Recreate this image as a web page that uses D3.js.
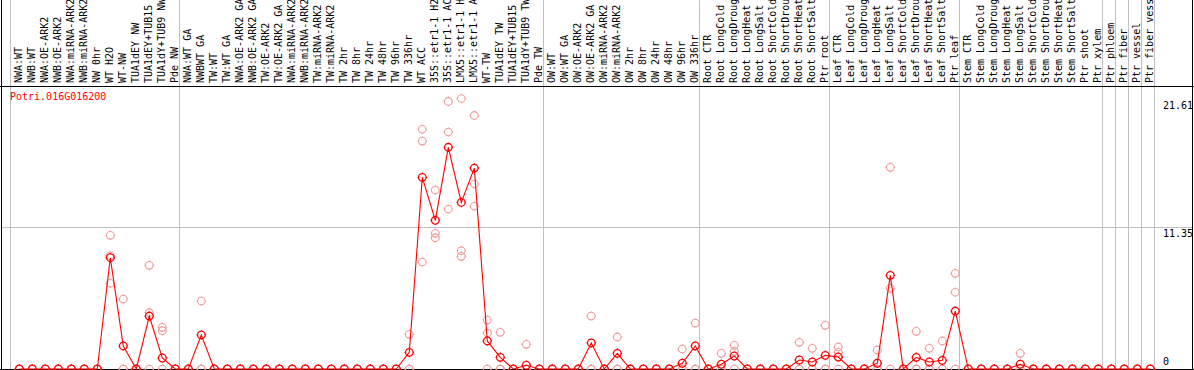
<!DOCTYPE html>
<html lang="en">
<head>
  <meta charset="UTF-8">
  <title>Potri.016G016200</title>
  <style>
    body { margin: 0; background: #fff; }
    svg { display: block; }
    text { font-family: "DejaVu Sans Mono", "Liberation Mono", monospace; font-size: 10px; }
  </style>
</head>
<body>
  <div id="chart"></div>

  <script src="https://d3js.org/d3.v7.min.js"></script>
  <script>
    // Probenamen (Spaltenbeschriftung)
    var sampleLabels = [
      'NWA:WT', 'NWB:WT', 'NWA:OE-ARK2', 'NWB:OE-ARK2', 'NWA:miRNA-ARK2', 'NWB:miRNA-ARK2',
      'NW 0hr', 'WT H2O', 'WT-NW', 'TUA1dEY NW', 'TUA1dEY+TUB15 NW', 'TUA1dY+TUB9 NW', 'Pde NW',
      'NWA:WT GA', 'NWBWT GA', 'TW:WT', 'TW:WT GA', 'NWA:OE-ARK2 GA', 'NWB:OE-ARK2 GA',
      'TW:OE-ARK2', 'TW:OE-ARK2 GA', 'NWA:miRNA-ARK2 GA', 'NWB:miRNA-ARK2 GA', 'TW:miRNA-ARK2',
      'TW:miRNA-ARK2', 'TW 2hr', 'TW 8hr', 'TW 24hr', 'TW 48hr', 'TW 96hr', 'TW 336hr', 'WT ACC',
      '35S::etr1-1 H2O', '35S::etr1-1 ACC', 'LMX5::etr1-1 H2O', 'LMX5::etr1-1 ACC', 'WT-TW',
      'TUA1dEY TW', 'TUA1dEY+TUB15 TW', 'TUA1dY+TUB9 TW', 'Pde TW',
      'OW:WT', 'OW:WT GA', 'OW:OE-ARK2', 'OW:OE-ARK2 GA', 'OW:miRNA-ARK2', 'OW:miRNA-ARK2',
      'OW 2hr', 'OW 8hr', 'OW 24hr', 'OW 48hr', 'OW 96hr', 'OW 336hr',
      'Root CTR', 'Root LongCold', 'Root LongDrought', 'Root LongHeat', 'Root LongSalt',
      'Root ShortCold', 'Root ShortDrought', 'Root ShortHeat', 'Root ShortSalt', 'Ptr root',
      'Leaf CTR', 'Leaf LongCold', 'Leaf LongDrought', 'Leaf LongHeat', 'Leaf LongSalt',
      'Leaf ShortCold', 'Leaf ShortDrought', 'Leaf ShortHeat', 'Leaf ShortSalt', 'Ptr leaf',
      'Stem CTR', 'Stem LongCold', 'Stem LongDrought', 'Stem LongHeat', 'Stem LongSalt',
      'Stem ShortCold', 'Stem ShortDrought', 'Stem ShortHeat', 'Stem ShortSalt', 'Ptr shoot',
      'Ptr xylem', 'Ptr phloem', 'Ptr fiber', 'Ptr vessel', 'Ptr fiber vessel'
    ];

    // Gruppengrenzen (Index der ersten Spalte jeder Gruppe)
    var groupBreaks = [0, 13, 41, 53, 63, 73, 84, 85, 86, 87, 88];

    // Mittelwerte
    var meanValues = [
      0, 0, 0, 0, 0, 0, 0, 8.89, 1.84, 0,
      4.23, 0.88, 0, 0, 2.72, 0, 0, 0, 0, 0,
      0, 0, 0, 0, 0, 0, 0, 0, 0, 0,
      1.33, 15.31, 11.88, 17.71, 13.31, 16.05, 2.24, 0.93, 0, 0.30,
      0, 0, 0, 0, 2.08, 0, 1.25, 0, 0, 0,
      0, 0.46, 1.84, 0, 0.38, 1.04, 0, 0, 0, 0,
      0.72, 0.56, 1.09, 0.96, 0, 0, 0.46, 7.48, 0, 0.93,
      0.56, 0.69, 4.63, 0, 0, 0, 0, 0.38, 0, 0,
      0, 0, 0, 0, 0, 0, 0, 0
    ];

    // Einzelwerte (Replikate)
    var repA = [
      0, 0, 0, 0, 0, 0, 0, 10.68, 5.59, 0,
      8.28, 3.33, 0, 0, 5.43, 0, 0, 0, 0, 0,
      0, 0, 0, 0, 0, 0, 0, 0, 0, 0,
      2.77, 19.15, 14.30, 21.38, 21.61, 20.26, 3.91, 2.93, 0, 1.97,
      0, 0, 0, 0, 4.23, 0, 2.56, 0, 0, 0,
      0, 1.60, 3.67, 0, 1.25, 1.89, 0, 0, 0, 0,
      2.13, 1.65, 3.49, 1.76, 0, 0, 1.52, 16.11, 0, 3.01,
      1.65, 2.24, 7.64, 0, 0, 0, 0, 1.25, 0, 0,
      0, 0, 0, 0, 0, 0, 0, 0
    ];
    var repB = [
      0, 0, 0, 0, 0, 0, 0, 9.05, 0, 0,
      4.50, 3.06, 0, 0, 0, 0, 0, 0, 0, 0,
      0, 0, 0, 0, 0, 0, 0, 0, 0, 0,
      0, 18.21, 10.84, 18.93, 9.45, 14.78, 2.88, 0, 0, 0,
      0, 0, 0, 0, 0, 0, 0, 0, 0, 0,
      0, 0, 0, 0, 0, 1.41, 0, 0, 0, 0,
      0, 0, 0, 1.33, 0, 0, 0, 6.45, 0, 0,
      0, 0, 6.13, 0, 0, 0, 0, 0, 0, 0,
      0, 0, 0, 0, 0, 0, 0, 0
    ];
    var repC = [
      0, 0, 0, 0, 0, 0, 0, 6.85, 0, 0,
      0, 0, 0, 0, 0, 0, 0, 0, 0, 0,
      0, 0, 0, 0, 0, 0, 0, 0, 0, 0,
      0, 8.55, 10.49, 12.78, 9.00, 13.00, 0, 0, 0, 0,
      0, 0, 0, 0, 0, 0, 0, 0, 0, 0,
      0, 0, 0, 0, 0, 0, 0, 0, 0, 0,
      0, 0, 0, 0, 0, 0, 0, 0, 0, 0,
      0, 0, 0, 0, 0, 0, 0, 0, 0, 0,
      0, 0, 0, 0, 0, 0, 0, 0
    ];

    var yTicks = [0, 11.35, 21.61];
    var geneName = 'Potri.016G016200';

    var width = 1194;
    var height = 370;
    var headerBottom = 86;
    var colStep = 13;
    var left = 11;

    var svg = d3.select('#chart')
      .append('svg')
      .attr('width', width)
      .attr('height', height);

    var xScale = d3.scaleLinear()
      .domain([0, sampleLabels.length])
      .range([left, left + colStep * sampleLabels.length]);

    var yScale = d3.scaleLinear()
      .domain([0, d3.max(yTicks)])
      .range([369, 98.5]);

    function px(i) {
      return xScale(i) + 8.3;
    }

    // Gitterlinien
    svg.append('g')
      .selectAll('line')
      .data(groupBreaks)
      .enter()
      .append('line')
      .attr('x1', function(d) { return Math.round(xScale(d)) - 0.5; })
      .attr('x2', function(d) { return Math.round(xScale(d)) - 0.5; })
      .attr('y1', 0)
      .attr('y2', 369)
      .attr('stroke', '#c0c0c0')
      .attr('stroke-width', 1);

    svg.append('g')
      .selectAll('line')
      .data(yTicks.filter(function(d) { return d > 0 && d < d3.max(yTicks); }))
      .enter()
      .append('line')
      .attr('x1', 1)
      .attr('x2', 1193)
      .attr('y1', function(d) { return Math.round(yScale(d)) + 0.5; })
      .attr('y2', function(d) { return Math.round(yScale(d)) + 0.5; })
      .attr('stroke', '#c0c0c0')
      .attr('stroke-width', 1);

    // Rahmen
    var frame = svg.append('g').attr('stroke', '#000').attr('stroke-width', 1);
    frame.append('line').attr('x1', 1.5).attr('x2', 1.5).attr('y1', 0).attr('y2', 370);
    frame.append('line').attr('x1', 1192.5).attr('x2', 1192.5).attr('y1', 0).attr('y2', 370);
    frame.append('line').attr('x1', 0).attr('x2', width).attr('y1', headerBottom + 0.5).attr('y2', headerBottom + 0.5);
    frame.append('line').attr('x1', 0).attr('x2', width).attr('y1', 369.5).attr('y2', 369.5);

    // Spaltenbeschriftung (senkrecht), oben abgeschnitten wie im Original
    svg.append('g')
      .selectAll('text')
      .data(sampleLabels)
      .enter()
      .append('text')
      .attr('transform', function(d, i) {
        return 'translate(' + (px(i) + 2.5) + ',' + (headerBottom - 3) + ') rotate(-90)';
      })
      .attr('fill', '#000')
      .text(function(d) { return d; });

    // Y-Achse rechts
    svg.append('g')
      .selectAll('text')
      .data(yTicks)
      .enter()
      .append('text')
      .attr('x', 1163)
      .attr('y', function(d) { return Math.min(yScale(d) + 10, 365); })
      .attr('fill', '#000')
      .text(function(d) { return d; });

    // Genname
    svg.append('text')
      .attr('x', 10)
      .attr('y', 100)
      .attr('fill', '#ff0000')
      .text(geneName);

    function markerPath(r) {
      var t = 1;
      return 'M' + r + ',0A' + r + ',' + r + ' 0 1,1 ' + (-r) + ',0A' + r + ',' + r + ' 0 1,1 ' + r + ',0' +
        'M0,' + (-r) + 'V' + (-r - t) + 'M0,' + r + 'V' + (r + t) +
        'M' + (-r) + ',0H' + (-r - t) + 'M' + r + ',0H' + (r + t);
    }

    // Replikate
    var reps = [];
    [repA, repB, repC].forEach(function(arr) {
      arr.forEach(function(v, i) { reps.push({ i: i, value: v }); });
    });

    svg.append('g')
      .selectAll('path')
      .data(reps)
      .enter()
      .append('path')
      .attr('d', markerPath(3.8))
      .attr('transform', function(d) { return 'translate(' + px(d.i) + ',' + yScale(d.value) + ')'; })
      .attr('fill', 'none')
      .attr('stroke', '#ee9a9a')
      .attr('stroke-width', 1.1);

    // Linie der Mittelwerte
    var line = d3.line()
      .x(function(d, i) { return px(i); })
      .y(function(d) { return yScale(d); });

    svg.append('path')
      .datum(meanValues)
      .attr('fill', 'none')
      .attr('stroke', '#ff0000')
      .attr('stroke-width', 1.1)
      .attr('d', line);

    svg.append('g')
      .selectAll('path')
      .data(meanValues)
      .enter()
      .append('path')
      .attr('d', markerPath(3.8))
      .attr('transform', function(d, i) { return 'translate(' + px(i) + ',' + yScale(d) + ')'; })
      .attr('fill', 'none')
      .attr('stroke', '#ff0000')
      .attr('stroke-width', 1.3);
  </script>
</body>
</html>
